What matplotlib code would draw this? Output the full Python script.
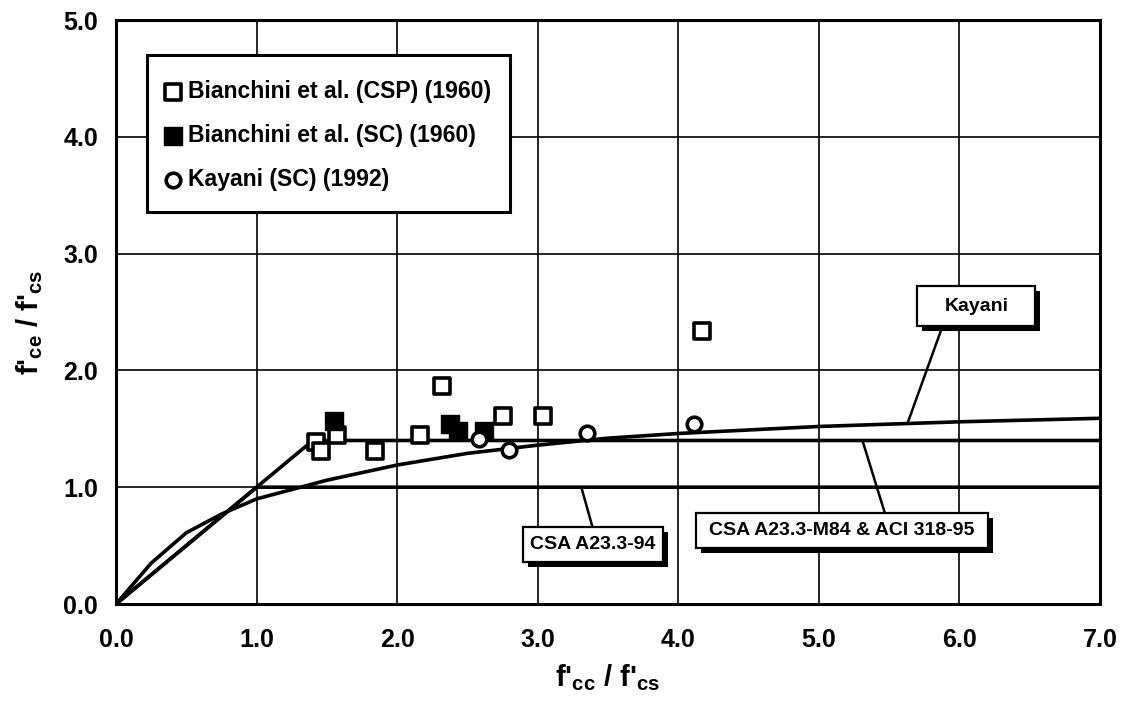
import numpy as np
import matplotlib
matplotlib.use("Agg")
import matplotlib.pyplot as plt
from matplotlib.patches import Rectangle
from matplotlib.ticker import FormatStrFormatter

plt.rcParams['font.family'] = ['Liberation Sans', 'DejaVu Sans']
plt.rcParams['font.weight'] = 'bold'
plt.rcParams['mathtext.fontset'] = 'custom'
plt.rcParams['mathtext.bf'] = 'Liberation Sans:bold'
plt.rcParams['mathtext.rm'] = 'Liberation Sans:bold'
plt.rcParams['mathtext.it'] = 'Liberation Sans:bold'

# ---- data ----
csp_x = [1.42, 1.46, 1.57, 1.84, 2.16, 2.32, 2.755, 3.04, 4.17]
csp_y = [1.39, 1.31, 1.45, 1.31, 1.45, 1.87, 1.61, 1.61, 2.34]

sc_x = [1.55, 2.375, 2.435, 2.62]
sc_y = [1.57, 1.54, 1.48, 1.48]

kay_x = [2.58, 2.795, 3.35, 4.11]
kay_y = [1.41, 1.32, 1.46, 1.54]

# design curves
csa94_x = [0.0, 1.0, 7.0]
csa94_y = [0.0, 1.0, 1.0]

m84_x = [0.0, 1.4, 7.0]
m84_y = [0.0, 1.4, 1.4]

kcurve_x = [0.0, 0.25, 0.5, 0.75, 1.0, 1.5, 2.0, 2.5, 3.0, 3.5, 4.0, 5.0, 6.0, 7.0]
kcurve_y = [0.0, 0.35, 0.61, 0.77, 0.90, 1.06, 1.19, 1.29, 1.36, 1.42, 1.46, 1.52, 1.56, 1.59]

xticks = [0, 1, 2, 3, 4, 5, 6, 7]
yticks = [0, 1, 2, 3, 4, 5]

legend_labels = ["Bianchini et al. (CSP) (1960)",
                 "Bianchini et al. (SC) (1960)",
                 "Kayani (SC) (1992)"]

# annotation: label, box (x0, y0, x1, y1), leader (xa, ya, xb, yb)
annots = [
    ("Kayani", (5.70, 2.38, 6.54, 2.72), (5.63, 1.545, 5.88, 2.38)),
    ("CSA A23.3-94", (2.895, 0.358, 3.89, 0.657), (3.31, 1.0, 3.39, 0.657)),
    ("CSA A23.3-M84 & ACI 318-95", (4.125, 0.478, 6.20, 0.776), (5.31, 1.40, 5.47, 0.776)),
]

# ---- figure ----
fig = plt.figure(figsize=(11.31, 7.2), dpi=100)
ax = fig.add_axes([0.1026, 0.1611, 0.8700, 0.8111])
ax.set_xlim(0, 7)
ax.set_ylim(0, 5)
ax.set_xticks(xticks)
ax.set_yticks(yticks)
ax.xaxis.set_major_formatter(FormatStrFormatter('%.1f'))
ax.yaxis.set_major_formatter(FormatStrFormatter('%.1f'))
ax.tick_params(axis='both', length=0, labelsize=18)
ax.tick_params(axis='x', pad=17)
ax.tick_params(axis='y', pad=13)
for lab in ax.get_xticklabels() + ax.get_yticklabels():
    lab.set_fontweight('bold')
ax.grid(True, color='black', linewidth=1.2)
ax.set_axisbelow(True)
for sp in ax.spines.values():
    sp.set_linewidth(2.2)

lw = 2.6
ax.plot(csa94_x, csa94_y, color='black', lw=lw, zorder=2, solid_joinstyle='miter')
ax.plot(m84_x, m84_y, color='black', lw=lw, zorder=2, solid_joinstyle='miter')
ax.plot(kcurve_x, kcurve_y, color='black', lw=lw, zorder=2)

# annotation boxes with shadow
sdx, sdy = 0.036, 0.043
for label, (x0, y0, x1, y1), (xa, ya, xb, yb) in annots:
    ax.plot([xa, xb], [ya, yb], color='black', lw=1.8, zorder=2)
    ax.add_patch(Rectangle((x0 + sdx, y0 - sdy), x1 - x0, y1 - y0,
                           facecolor='black', edgecolor='black', lw=0, zorder=3))
    ax.add_patch(Rectangle((x0, y0), x1 - x0, y1 - y0,
                           facecolor='white', edgecolor='black', lw=1.6, zorder=3.1))
    ax.text((x0 + x1) / 2, (y0 + y1) / 2, label, ha='center', va='center',
            fontsize=14, fontweight='bold', zorder=3.2)

# data markers
h1 = ax.scatter(csp_x, csp_y, marker='s', s=120, facecolor='white',
                edgecolor='black', linewidths=2.6, zorder=4)
h2 = ax.scatter(sc_x, sc_y, marker='s', s=150, facecolor='black',
                edgecolor='black', linewidths=1.0, zorder=4)
h3 = ax.scatter(kay_x, kay_y, marker='o', s=110, facecolor='white',
                edgecolor='black', linewidths=2.6, zorder=4)

# legend frame
ax.add_patch(Rectangle((0.0315, 0.671), 0.369, 0.269, transform=ax.transAxes,
                       facecolor='white', edgecolor='black', lw=2.2, zorder=5))
leg = ax.legend([h1, h2, h3], legend_labels, loc='upper left',
                bbox_to_anchor=(0.0488, 0.897), frameon=False,
                borderpad=0, borderaxespad=0, handlelength=0.8,
                handletextpad=0.25, labelspacing=0.9,
                prop={'size': 16.6, 'weight': 'bold'}, scatterpoints=1)
leg.set_zorder(6)

fig.text(608 / 1131, 1 - 678 / 720, r"f'$_{\mathbf{cc}}$ / f'$_{\mathbf{cs}}$",
         ha='center', va='center', fontsize=21, fontweight='bold')
fig.text(30 / 1131, 1 - 322 / 720, r"f'$_{\mathbf{ce}}$ / f'$_{\mathbf{cs}}$",
         ha='center', va='center', fontsize=21, fontweight='bold', rotation=90)

fig.savefig("out.png", dpi=100)
